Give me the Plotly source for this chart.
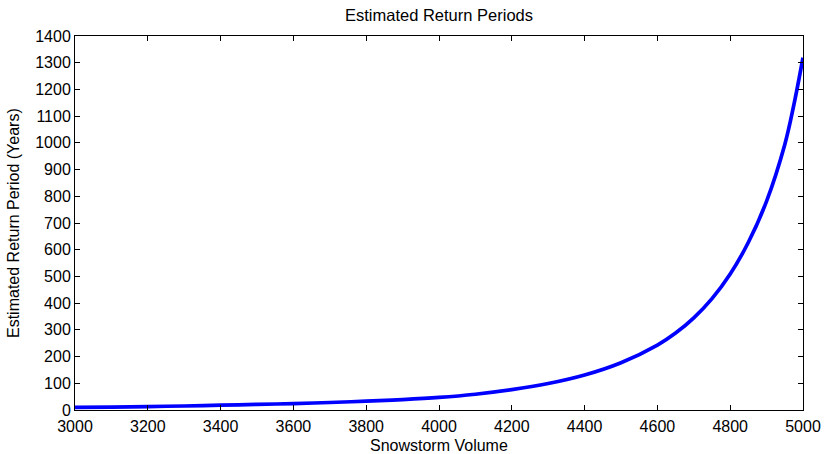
import plotly.graph_objects as go

volume = [3000, 3100, 3200, 3300, 3400, 3500, 3600, 3700, 3800, 3900, 4000, 4100, 4200,
          4300, 4400, 4500, 4600, 4650, 4700, 4750, 4800, 4850, 4900, 4950, 4975, 5000]
return_period = [10, 11, 13, 15, 18, 21, 24, 28, 33, 39, 47, 59, 76,
                 99, 131, 177, 243, 288, 345, 417, 509, 628, 782, 994, 1143, 1319]

x_ticks = list(range(3000, 5001, 200))
y_ticks = list(range(0, 1401, 100))

font = "Liberation Sans, Arial, sans-serif"

W, H = 826, 454
L, R, T, B = 75, 23, 35.5, 44

fig = go.Figure()
fig.add_trace(go.Scatter(x=volume, y=return_period, mode="lines",
                         line=dict(color="#0000ff", width=3.7, shape="spline", smoothing=1.0),
                         showlegend=False))

axis_common = dict(showgrid=False, zeroline=False, showline=True, linecolor="black",
                   linewidth=1, mirror="ticks", ticks="inside", ticklen=5, tickcolor="black",
                   tickwidth=1, automargin=False,
                   tickfont=dict(family=font, size=16, color="black"))

fig.update_layout(
    width=W, height=H,
    margin=dict(l=L, r=R, t=T, b=B),
    paper_bgcolor="white", plot_bgcolor="white",
    title=dict(text="Estimated Return Periods", x=(L + (W - R)) / 2 / W, xanchor="center",
               y=1 - 15 / H, yanchor="middle",
               font=dict(family=font, size=16.5, color="black")),
    xaxis=dict(range=[3000, 5000], tickvals=x_ticks, ticktext=[str(v) for v in x_ticks],
               ticklabelstandoff=2, **axis_common),
    yaxis=dict(range=[0, 1400], tickvals=y_ticks, ticktext=[str(v) for v in y_ticks],
               **axis_common),
    annotations=[
        dict(text="Snowstorm Volume", xref="paper", yref="paper", x=0.5,
             y=-(446 - (H - B)) / (H - T - B), xanchor="center", yanchor="middle",
             showarrow=False, font=dict(family=font, size=16, color="black")),
        dict(text="Estimated Return Period (Years)", xref="paper", yref="paper",
             x=-(L - 13) / (W - L - R), y=0.5, xanchor="center", yanchor="middle",
             textangle=-90, showarrow=False, font=dict(family=font, size=16, color="black")),
    ],
)

fig.write_html("out.html", config={"displayModeBar": False},
               post_script="document.body.style.margin='0';")
